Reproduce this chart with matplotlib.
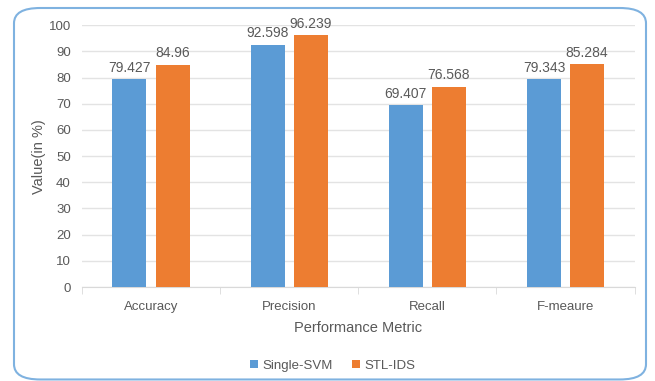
import matplotlib.pyplot as plt
import numpy as np
from matplotlib.patches import FancyBboxPatch

metrics = ['Accuracy', 'Precision', 'Recall', 'F-meaure']
single_svm = [79.427, 92.598, 69.407, 79.343]
stl_ids = [84.96, 96.239, 76.568, 85.284]

BLUE = '#5b9bd5'
ORANGE = '#ed7d31'
TEXT = '#595959'

plt.rcParams['font.family'] = ['Liberation Sans', 'DejaVu Sans']

fig = plt.figure(figsize=(6.55, 3.81), dpi=100)
ax = fig.add_axes([0.125, 0.2467, 0.844, 0.687])

x = np.arange(len(metrics))
w = 0.246
off = 0.156
b1 = ax.bar(x - off, single_svm, w, color=BLUE, label='Single-SVM', zorder=3)
b2 = ax.bar(x + off, stl_ids, w, color=ORANGE, label='STL-IDS', zorder=3)
for bars in (b1, b2):
    ax.bar_label(bars, fmt='%g', padding=3, fontsize=10, color=TEXT)

ax.set_xlim(-0.5, len(metrics) - 0.5)
ax.set_ylim(0, 100)
ax.set_yticks(range(0, 101, 10))
ax.set_xticks(x)
ax.set_xticklabels(metrics)
ax.set_xticks(np.arange(-0.5, len(metrics), 1), minor=True)
ax.tick_params(axis='x', which='major', length=0, pad=10, labelsize=9.5, labelcolor=TEXT)
ax.tick_params(axis='x', which='minor', length=5, color='#d9d9d9', direction='out')
ax.tick_params(axis='y', length=0, pad=8, labelsize=9.5, labelcolor=TEXT)
ax.yaxis.grid(True, color='#e3e3e3', linewidth=1, zorder=0)

for s in ('top', 'right', 'left'):
    ax.spines[s].set_visible(False)
ax.spines['bottom'].set_color('#d9d9d9')

ax.set_xlabel('Performance Metric', fontsize=10.5, color=TEXT, labelpad=6)
ax.set_ylabel('Value(in %)', fontsize=10.5, color=TEXT, labelpad=2)

ax.legend(loc='center', bbox_to_anchor=(0.454, -0.3), ncol=2, frameon=False,
          fontsize=9.5, labelcolor=TEXT, handlelength=0.6, handleheight=0.6,
          handletextpad=0.3, columnspacing=1.5)

# rounded frame around the chart area
frame = FancyBboxPatch((14 / 655, 0.004), 632 / 655, 1 - 8 / 381 - 0.004,
                       boxstyle='round,pad=0,rounding_size=0.04',
                       transform=fig.transFigure, fill=False,
                       edgecolor='#7fb2e0', linewidth=1.5)
fig.patches.append(frame)

fig.savefig('out.png', dpi=100)
